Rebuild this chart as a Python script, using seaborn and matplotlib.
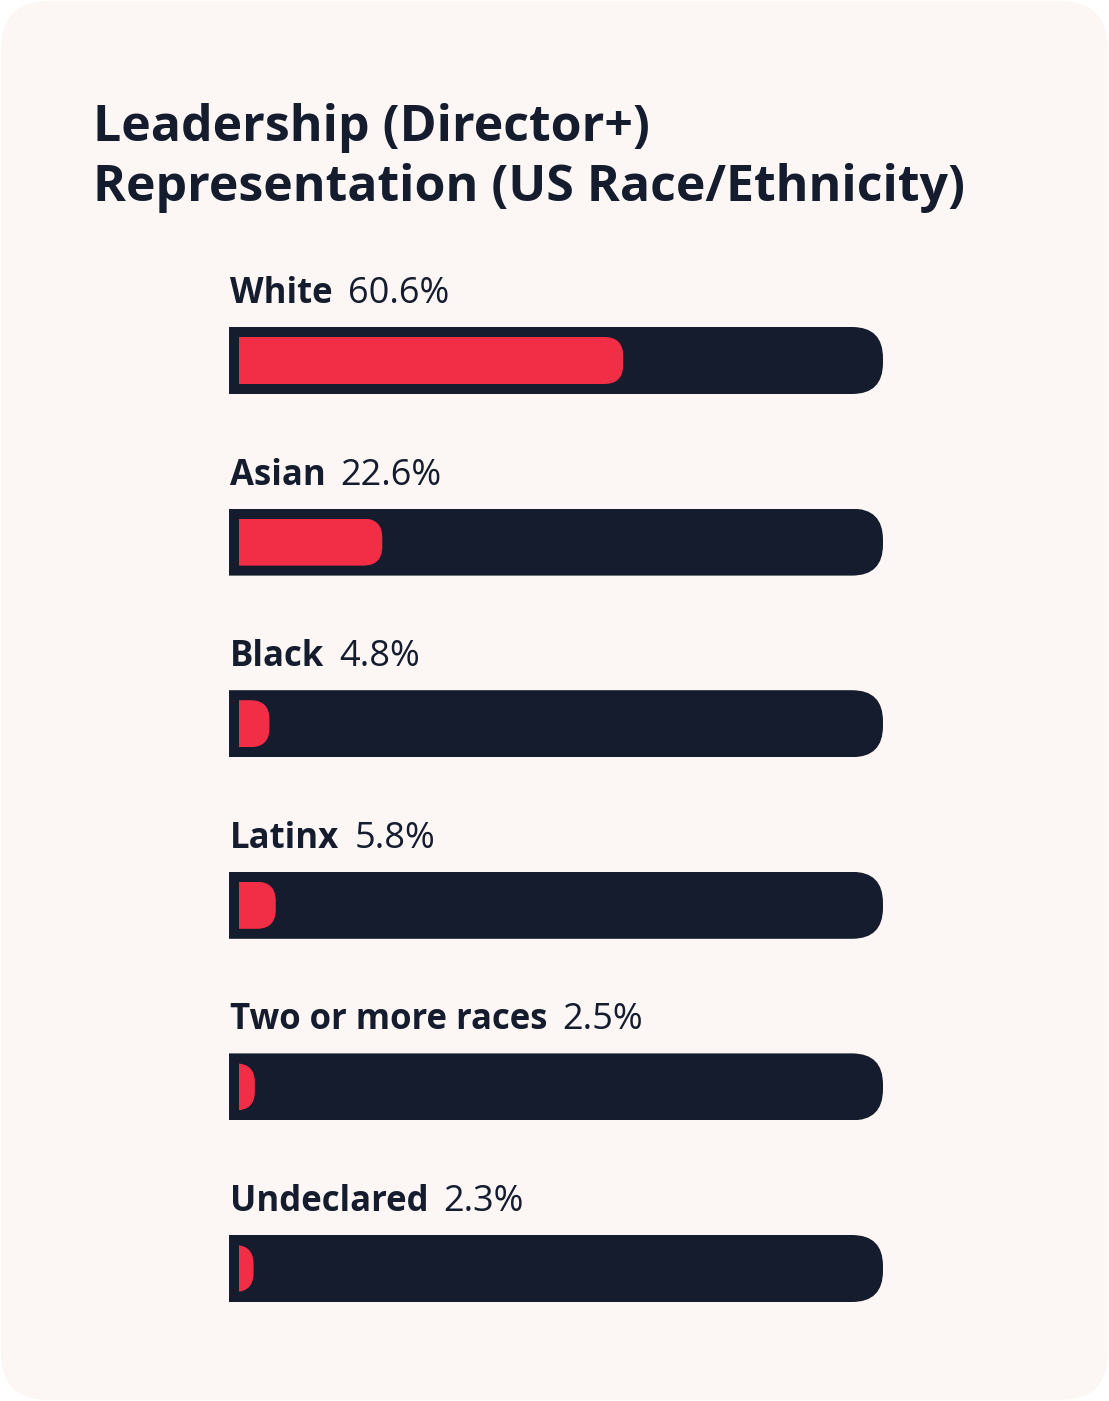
import matplotlib
matplotlib.use("Agg")
import matplotlib.pyplot as plt
from matplotlib.patches import FancyBboxPatch, Rectangle
from matplotlib.transforms import IdentityTransform
import pandas as pd
import seaborn as sns

# data
groups = ["White", "Asian", "Black", "Latinx", "Two or more races", "Undeclared"]
shares = [60.6, 22.6, 4.8, 5.8, 2.5, 2.3]
track_full = [100.0] * len(groups)
title_lines = ["Leadership (Director+)", "Representation (US Race/Ethnicity)"]

NAVY = "#141c2e"
RED = "#f22e46"
CARD = "#fcf7f4"

W, H = 1109, 1401
sns.set_style("white")
plt.rcParams['font.family'] = ['Open Sans', 'DejaVu Sans']

# layout in pixels
track_left, track_w, inset = 229, 654, 10
row_gap, first_center = 181.6, 360.5
track_h, fill_h = 67, 47
n = len(groups)
px_per_x = (track_w - 2 * inset) / 100
pad = inset / px_per_x
aspect = px_per_x / row_gap

fig = plt.figure(figsize=(W / 100, H / 100), dpi=100, facecolor="white")
fig.add_artist(FancyBboxPatch((1, 1), W - 2, H - 2,
                              boxstyle="round,pad=0,rounding_size=48",
                              transform=IdentityTransform(),
                              fc=CARD, ec="none", zorder=0))

ax = fig.add_axes([track_left / W,
                   1 - (first_center + (n - 0.5) * row_gap) / H,
                   track_w / W,
                   n * row_gap / H])
ax.patch.set_alpha(0)

df = pd.DataFrame({"group": groups, "share": shares, "full": track_full})
sns.barplot(data=df, x="full", y="group", color=NAVY, width=track_h / row_gap,
            saturation=1, ax=ax)
sns.barplot(data=df, x="share", y="group", color=RED, width=fill_h / row_gap,
            saturation=1, ax=ax)

# swap seaborn's plain bars for ones with a square left and rounded right end
bars = list(ax.patches)
for i, bar in enumerate(bars):
    x0, y0, w, h = bar.get_x(), bar.get_y(), bar.get_width(), bar.get_height()
    color = bar.get_facecolor()
    bar.remove()
    if i < n:  # track
        x0, w, radius = x0 - pad, w + 2 * pad, 31
    else:
        radius = 19
    r = radius / px_per_x
    shape = FancyBboxPatch((x0 - 2 * r, y0), w + 2 * r, h,
                           boxstyle=f"round,pad=0,rounding_size={r}",
                           mutation_aspect=aspect, fc=color, ec="none")
    ax.add_patch(shape)
    shape.set_clip_path(Rectangle((x0, y0), w + 1, h, transform=ax.transData))

ax.set_xlim(-pad, 100 + pad)
ax.set_ylim(n - 0.5, -0.5)
ax.axis("off")

# labels above each track
for i, (g, s) in enumerate(zip(groups, shares)):
    t1 = ax.text(-pad + 1 / px_per_x, i - track_h / row_gap / 2 - 24 / row_gap, g,
                 fontsize=25, weight="bold", color=NAVY, va="baseline", ha="left")
    ax.annotate(f"{s:.1f}%", xy=(1, 0), xycoords=t1, xytext=(15, 0),
                textcoords="offset pixels", va="bottom", ha="left",
                fontsize=26, color=NAVY)

fig.text(93 / W, 1 - 141 / H, title_lines[0], fontsize=36, weight="bold",
         color=NAVY, va="baseline", ha="left")
fig.text(93 / W, 1 - 201 / H, title_lines[1], fontsize=36, weight="bold",
         color=NAVY, va="baseline", ha="left")

fig.savefig("out.png", dpi=100, facecolor="white")
